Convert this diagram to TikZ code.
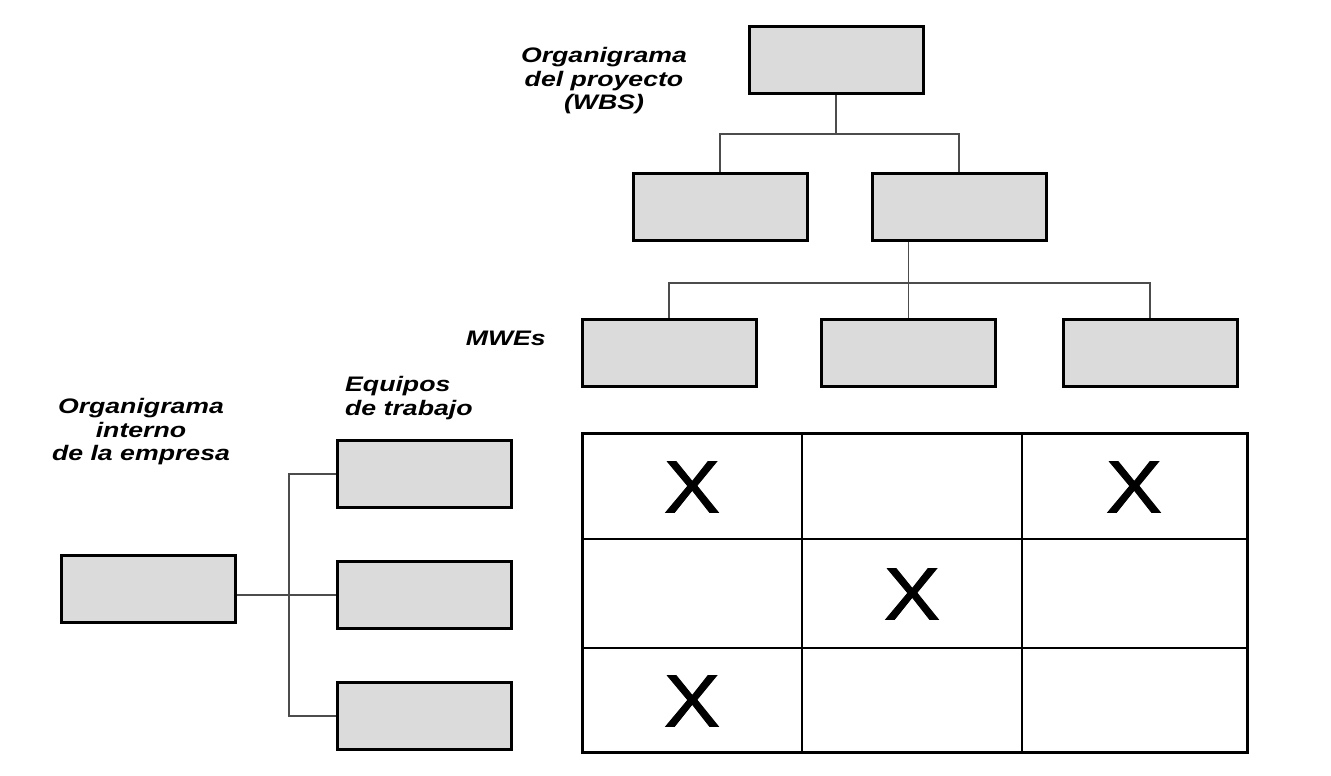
\documentclass[tikz,border=0pt]{standalone}
\usepackage{fontspec}
\setmainfont{Liberation Sans}
\newfontfamily\lblfont{Liberation Sans}[FakeStretch=1.27]
\newfontfamily\xfont{Liberation Sans}[FakeStretch=1.14,FakeBold=1.2]
\begin{document}
\begin{tikzpicture}[x=1pt,y=-1pt,
  box/.style={draw=black,line width=3pt,fill=black!14,minimum width=174pt,minimum height=67pt,inner sep=0pt},
  conn/.style={draw=black!70,line width=1.1pt},
  lbl/.style={font=\lblfont\fontsize{21}{23.5}\selectfont\bfseries\itshape,align=center,inner sep=0pt},
  xmark/.style={font=\xfont\fontsize{74}{74}\selectfont,inner sep=0pt}]
\useasboundingbox[fill=white] (0,0) rectangle (1331,776);
% WBS boxes
\node[box] (top) at (836,60) {};
\node[box] (b1) at (720,206.5) {};
\node[box] (b2) at (959,206.5) {};
\node[box] (m1) at (669,352.5) {};
\node[box] (m2) at (908.5,352.5) {};
\node[box] (m3) at (1150,353) {};
% company boxes
\node[box] (org) at (148.5,589) {};
\node[box] (t1) at (424,474) {};
\node[box] (t2) at (424,595) {};
\node[box] (t3) at (424,716) {};
% labels
\node[lbl] (lwbs) at (604,81) {Organigrama\\del proyecto\\(WBS)};
\node[lbl,anchor=east] (lmwe) at (546,338) {MWEs};
\node[lbl,align=left,anchor=west] (leq) at (345,398) {Equipos\\de trabajo};
\node[lbl] (lorg) at (141,432) {Organigrama\\interno\\de la empresa};
% WBS connectors
\coordinate (j1) at (836,134);
\draw[conn] (top.south) -- (j1);
\draw[conn] (b1.north) |- (j1) -| (b2.north);
\coordinate (j2) at (908.5,283);
\draw[conn] (m2.north |- b2.south) -- (m2.north);
\draw[conn] (m1.north) |- (j2) -| (m3.north);
% company connectors
\coordinate (vx) at (289,0);
\draw[conn] (org.east |- t2.west) -- (t2.west);
\draw[conn] (t1.west) -- (vx |- t1.west) -- (vx |- t3.west) -- (t3.west);
% matrix
\coordinate (g0) at (582,433);
\coordinate (g1) at (1247,752);
\draw[line width=1.6pt] (802,433) -- (802,752);
\draw[line width=1.6pt] (1022,433) -- (1022,752);
\draw[line width=1.6pt] (582,539) -- (1247,539);
\draw[line width=1.6pt] (582,648) -- (1247,648);
\draw[line width=3pt] (g0) rectangle (g1);
\node[xmark] (x1) at (692,487) {X};
\node[xmark] (x2) at (1134,487) {X};
\node[xmark] (x3) at (912,594) {X};
\node[xmark] (x4) at (692,701) {X};
\end{tikzpicture}
\end{document}
